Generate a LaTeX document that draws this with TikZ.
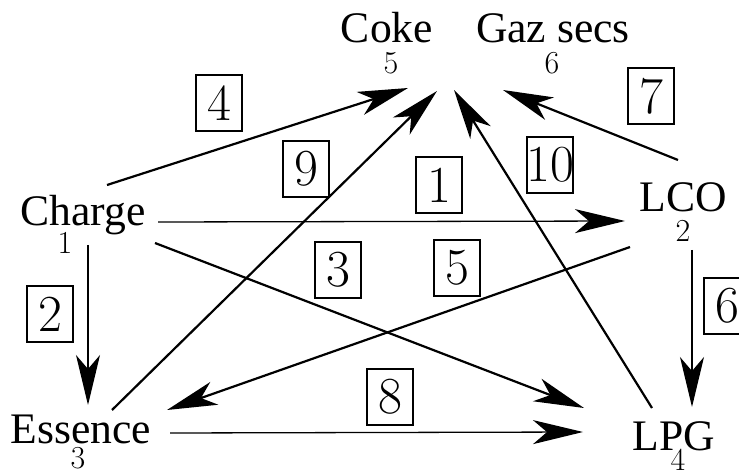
\documentclass[tikz,border=0pt]{standalone}
\usepackage{fontspec}
\newfontfamily\prodfont{Liberation Serif}
\usetikzlibrary{arrows.meta}
\begin{document}
\begin{tikzpicture}[x=0.5pt,y=-0.5pt,
  prodname/.style={anchor=base,inner sep=0pt,font=\prodfont\fontsize{21.8}{24}\selectfont},
  idx/.style={anchor=base,inner sep=0pt,font=\fontsize{16}{18}\selectfont},
  tag/.style={draw,line width=1pt,minimum width=23pt,minimum height=28pt,inner sep=0pt,
    font=\fontsize{26}{28}\selectfont},
  flow/.style={line width=1.1pt,-{Stealth[length=25pt,width=12pt,inset=7pt]}},
  thinflow/.style={flow,line width=0.65pt},
]
\useasboundingbox (0,0) rectangle (739,470);

% products and their indices
\node[prodname] (coke) at (387,43) {Coke};
\node[idx]  (coken) at (391,74) {5};
\node[prodname] (gaz) at (553,43) {Gaz secs};
\node[idx]  (gazn) at (552,74) {6};
\node[prodname] (charge) at (83,226) {Charge};
\node[idx]  (chargen) at (65,254) {1};
\node[prodname] (lco) at (683,212) {LCO};
\node[idx]  (lcon) at (683,242) {2};
\node[prodname] (essence) at (81,443) {Essence};
\node[idx]  (essencen) at (78,468) {3};
\node[prodname] (lpg) at (674,450) {LPG};
\node[idx]  (lpgn) at (678,470) {4};

% arrow end points around each product
\coordinate (ch-r)  at (158,222);
\coordinate (ch-d)  at (88,245);
\coordinate (ch-dr) at (155,243);
\coordinate (ch-u)  at (107,185);
\coordinate (lc-l)  at (625,221);
\coordinate (lc-dl) at (630,247);
\coordinate (lc-d)  at (692,250);
\coordinate (lc-u)  at (678,160);
\coordinate (es-u)  at (88,405);
\coordinate (es-ur) at (167,410);
\coordinate (es-r)  at (170,433);
\coordinate (es-uu) at (112,410);
\coordinate (lp-u)  at (692,407);
\coordinate (lp-ul) at (584,408);
\coordinate (lp-l)  at (583,432);
\coordinate (lp-uu) at (652,408);
\coordinate (ck-a)  at (408,88);
\coordinate (ck-b)  at (437,91);
\coordinate (ck-c)  at (454,90);
\coordinate (gz-a)  at (503,90);

% flows
\draw[thinflow] (ch-r) -- (lc-l);
\draw[thinflow] (ch-d) -- (es-u);
\draw[flow] (ch-dr) -- (lp-ul);
\draw[flow] (ch-u) -- (ck-a);
\draw[flow] (lc-dl) -- (es-ur);
\draw[thinflow] (lc-d) -- (lp-u);
\draw[flow] (lc-u) -- (gz-a);
\draw[thinflow] (es-r) -- (lp-l);
\draw[flow] (es-uu) -- (ck-b);
\draw[flow] (lp-uu) -- (ck-c);

% flow numbers
\node[tag] (t4) at (219,103) {4};
\node[tag] (t9) at (306,169) {9};
\node[tag] (t1) at (439,185) {1};
\node[tag] (t10) at (550,165) {\makebox[23pt]{10}};
\node[tag] (t7) at (651,96) {7};
\node[tag] (t2) at (50,314) {2};
\node[tag] (t3) at (338,270) {3};
\node[tag] (t5) at (457,268) {5};
\node[tag] (t6) at (727,306) {6};
\node[tag] (t8) at (390,397) {8};
\end{tikzpicture}
\end{document}
